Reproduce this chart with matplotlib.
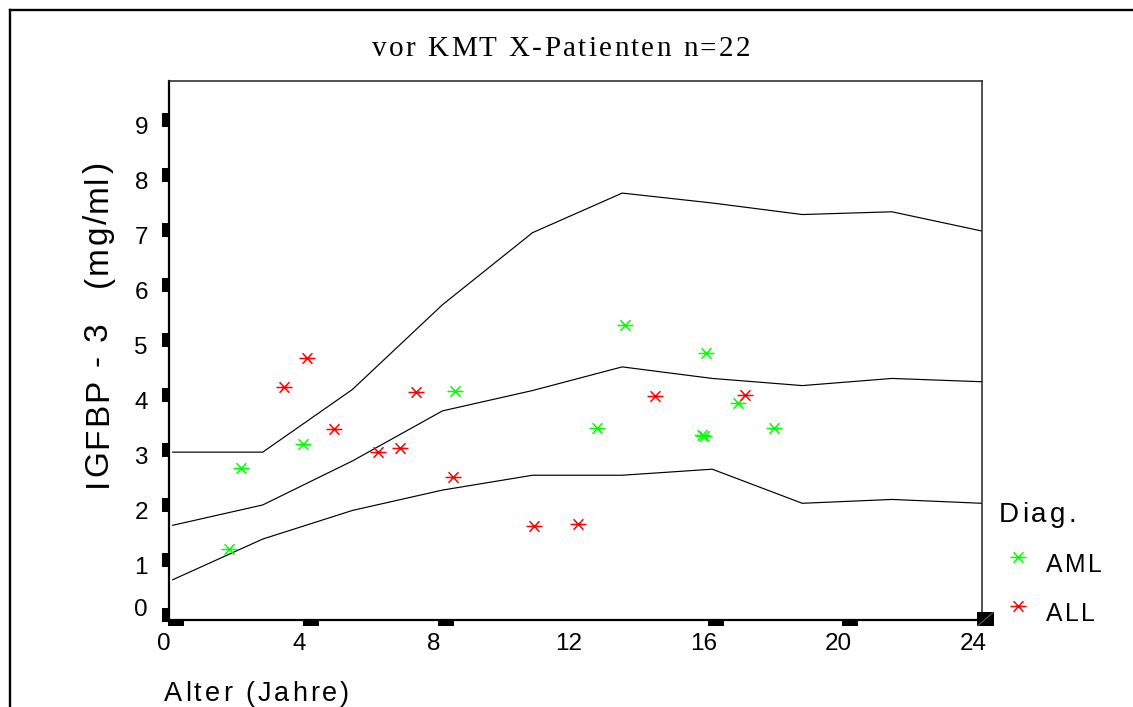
import matplotlib
matplotlib.use("Agg")
import matplotlib.pyplot as plt
import matplotlib.transforms as mtransforms
from matplotlib.path import Path
from matplotlib.patches import Rectangle
from matplotlib.lines import Line2D
from matplotlib.font_manager import FontProperties
from matplotlib.textpath import TextToPath

W, H, DPI = 1133, 707, 100

# ---------------- data ----------------
title = "vor KMT X-Patienten n=22"
xlabel = "Alter (Jahre)"
ylabel = "IGFBP - 3   (mg/ml)"
legend_title = "Diag."
groups = ["AML", "ALL"]
group_colors = ["#00ff00", "#ff0000"]

ref_age = [0, 2.67, 5.33, 8, 10.67, 13.33, 16, 18.67, 21.33, 24]
ref_upper = [2.97, 2.97, 4.11, 5.65, 6.96, 7.68, 7.50, 7.29, 7.34, 6.99]
ref_median = [1.64, 2.01, 2.81, 3.72, 4.09, 4.52, 4.31, 4.18, 4.31, 4.25]
ref_lower = [0.65, 1.39, 1.91, 2.28, 2.55, 2.55, 2.66, 2.04, 2.11, 2.04]

aml_age = [1.68, 2.02, 3.87, 8.38, 12.58, 13.41, 15.81, 15.70, 15.76, 16.77, 17.82]
aml_igfbp3 = [1.20, 2.68, 3.12, 4.09, 3.41, 5.28, 4.77, 3.29, 3.27, 3.87, 3.41]
all_age = [3.30, 3.97, 4.79, 6.10, 6.75, 7.22, 8.32, 10.72, 12.01, 14.31, 16.98]
all_igfbp3 = [4.16, 4.69, 3.39, 2.97, 3.05, 4.07, 2.52, 1.63, 1.66, 3.99, 4.01]

x_ticks = [0, 4, 8, 12, 16, 20, 24]
x_tick_marks = [0, 4, 8, 16, 20]
y_ticks = [0, 1, 2, 3, 4, 5, 6, 7, 8, 9]

# ---------------- figure ----------------
fig = plt.figure(figsize=(W / DPI, H / DPI), dpi=DPI)
fig.patch.set_facecolor("white")
ident = mtransforms.IdentityTransform()

def px(x, y_top):
    """pixel (from top-left) -> display coords"""
    return x, H - y_top

# outer frame (only top/left visible)
fig.add_artist(Line2D([9.5, W], [H - 9.5, H - 9.5], transform=ident, color="black", lw=1.7))
fig.add_artist(Line2D([9.5, 9.5], [0, H - 9.5], transform=ident, color="black", lw=1.7))

L, R, T, B = 169, 982, 81, 620
ax = fig.add_axes([L / W, 1 - B / H, (R - L) / W, (B - T) / H])
ax.set_xlim(-0.11, 24.0)
ax.set_ylim(-0.082, 9.718)
for side in ["left", "bottom"]:
    ax.spines[side].set_linewidth(1.6)
for side in ["top", "right"]:
    ax.spines[side].set_linewidth(1.1)
    ax.spines[side].set_color("#222222")

# reference curves
for curve in (ref_upper, ref_median, ref_lower):
    ax.plot(ref_age, curve, color="black", lw=0.85, solid_joinstyle="miter")

# asterisk marker
star = Path([(-1, 0), (1, 0), (-0.62, -0.66), (0.62, 0.66), (-0.62, 0.66), (0.62, -0.66)],
            [Path.MOVETO, Path.LINETO] * 3)
ax.plot(aml_age, aml_igfbp3, ls="none", marker=star, ms=11.5, mew=1.1,
        color=group_colors[0], clip_on=False)
ax.plot(all_age, all_igfbp3, ls="none", marker=star, ms=11.5, mew=1.1,
        color=group_colors[1], clip_on=False)

# ticks
sans = "Liberation Sans"
ax.set_xticks(x_ticks)
ax.set_xticklabels([str(t) for t in x_ticks], fontsize=17.5, family=sans)
ax.set_yticks(y_ticks)
ax.set_yticklabels([str(t) for t in y_ticks], fontsize=17.5, family=sans, ha="center")
ax.tick_params(axis="x", length=0, pad=9.5)
ax.tick_params(axis="y", length=0, pad=20)
xoff = mtransforms.ScaledTranslation(-0.085, 0, fig.dpi_scale_trans)
for lbl in ax.get_xticklabels():
    lbl.set_transform(lbl.get_transform() + xoff)
for t, lbl in zip(y_ticks, ax.get_yticklabels()):
    dy = 0.075 if t == 0 else -0.05
    lbl.set_transform(lbl.get_transform() + mtransforms.ScaledTranslation(0, dy, fig.dpi_scale_trans))

fig.canvas.draw()
tdata = ax.transData
# tick rectangles (outside the axes)
for t in x_tick_marks:
    dx, _ = tdata.transform((t, 0))
    fig.add_artist(Rectangle((dx - 4.7, H - 626), 16, 6, transform=ident,
                             facecolor="black", edgecolor="none"))
for t in y_ticks:
    _, dy = tdata.transform((0, t))
    fig.add_artist(Rectangle((162, dy - 7), 7, 14, transform=ident,
                             facecolor="black", edgecolor="none"))
cx, _ = tdata.transform((24, 0))
fig.add_artist(Rectangle((cx - 4.7, H - 626), 16.5, 14, transform=ident,
                         facecolor="black", edgecolor="none"))
fig.add_artist(Line2D([cx - 4.7, cx + 11.8], [H - 626, H - 612], transform=ident,
                      color="#888888", lw=0.5))

# ---------------- tracked text helper ----------------
ttp = TextToPath()

def advance(c, fp):
    a = ttp.get_text_width_height_descent("H" + c + "H", fp, ismath=False)[0]
    b = ttp.get_text_width_height_descent("HH", fp, ismath=False)[0]
    return (a - b) * DPI / 72.0

def tracked_text(s, x, y, fp, track, color="black", vertical=False):
    pos = 0.0
    for c in s:
        if c != " ":
            if vertical:
                fig.text(x / W, 1 - (y - pos) / H, c, fontproperties=fp, rotation=90,
                         rotation_mode="anchor", ha="left", va="baseline", color=color)
            else:
                fig.text((x + pos) / W, 1 - y / H, c, fontproperties=fp,
                         ha="left", va="baseline", color=color)
        pos += advance(c, fp) + track

fp_title = FontProperties(family="Liberation Serif", size=21)
fp_xlab = FontProperties(family=sans, size=19.5)
fp_ylab = FontProperties(family=sans, size=24)
fp_legt = FontProperties(family=sans, size=20)
fp_leg = FontProperties(family=sans, size=17.8)

tracked_text(title, 372, 56.5, fp_title, 2.3)
tracked_text(xlabel, 164, 701, fp_xlab, 3.0)
tracked_text(ylabel, 107, 487, fp_ylab, 2.0, vertical=True)
tracked_text(legend_title, 999, 522, fp_legt, 3.0)

leg_y = [557, 606]
for g, col, yy in zip(groups, group_colors, leg_y):
    fig.add_artist(Line2D([1018.3], [H - yy], transform=ident, ls="none", marker=star,
                          ms=11.5, mew=1.1, color=col))
    tracked_text(g, 1046, yy + 15, fp_leg, 2.6)

fig.savefig("out.png", dpi=DPI, facecolor="white")
